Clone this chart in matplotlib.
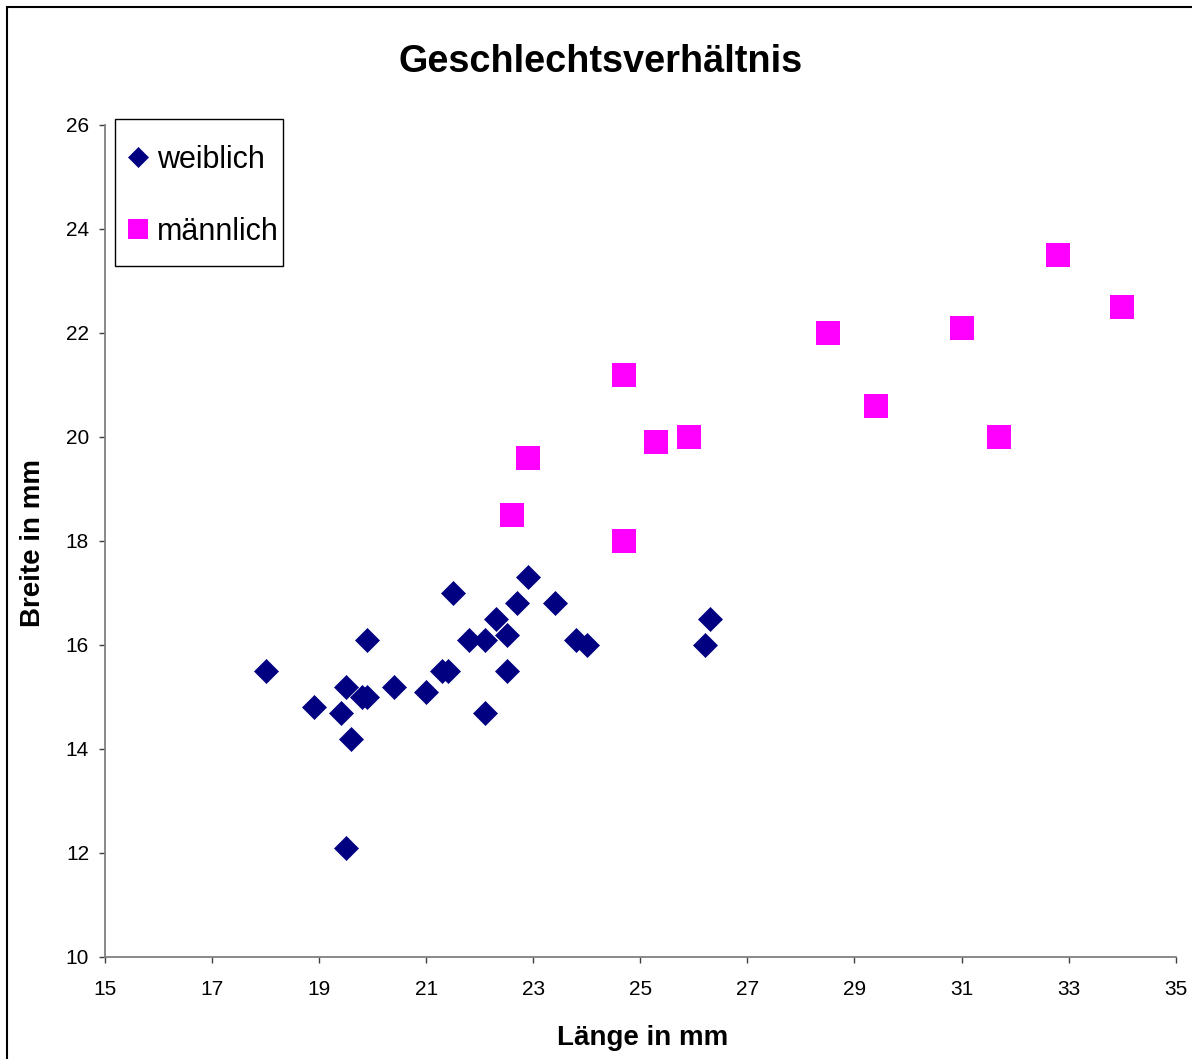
import matplotlib
matplotlib.use("Agg")
import matplotlib.pyplot as plt
from matplotlib.patches import Rectangle

plt.rcParams['font.family'] = ['Liberation Sans', 'DejaVu Sans']

# Länge (mm) und Breite (mm) der Weibchen
weiblich_laenge = [18.0, 18.9, 19.5, 19.4, 19.6, 19.5, 19.9, 19.8, 19.9, 20.4,
                   21.0, 21.3, 21.4, 21.5, 21.8, 22.1, 22.1, 22.3, 22.5, 22.5,
                   22.7, 22.9, 23.4, 23.8, 24.0, 26.3, 26.2]
weiblich_breite = [15.5, 14.8, 15.2, 14.7, 14.2, 12.1, 16.1, 15.0, 15.0, 15.2,
                   15.1, 15.5, 15.5, 17.0, 16.1, 16.1, 14.7, 16.5, 16.2, 15.5,
                   16.8, 17.3, 16.8, 16.1, 16.0, 16.5, 16.0]

# Länge (mm) und Breite (mm) der Männchen
maennlich_laenge = [22.6, 22.9, 24.7, 24.7, 25.3, 25.9, 28.5, 29.4, 31.0, 31.7,
                    32.8, 34.0]
maennlich_breite = [18.5, 19.6, 21.2, 18.0, 19.9, 20.0, 22.0, 20.6, 22.1, 20.0,
                    23.5, 22.5]

x_ticks = [15, 17, 19, 21, 23, 25, 27, 29, 31, 33, 35]
y_ticks = [10, 12, 14, 16, 18, 20, 22, 24, 26]

W, H = 1192, 1059
fig = plt.figure(figsize=(W / 100, H / 100), dpi=100)
fig.patch.set_facecolor('white')

left, right, top, bottom = 105, 1175.7, 125, 957
ax = fig.add_axes([left / W, 1 - bottom / H, (right - left) / W, (bottom - top) / H])

ax.plot(weiblich_laenge, weiblich_breite, linestyle='none', marker='D',
        markersize=12.5, color='#000080', markeredgewidth=0.5,
        label='weiblich', clip_on=False)
ax.plot(maennlich_laenge, maennlich_breite, linestyle='none', marker='s',
        markersize=17, color='#FF00FF', markeredgewidth=0,
        label='männlich', clip_on=False)

ax.set_xlim(15, 35)
ax.set_ylim(10, 26)
ax.set_xticks(x_ticks)
ax.set_yticks(y_ticks)

for side in ('top', 'right'):
    ax.spines[side].set_visible(False)
for side in ('left', 'bottom'):
    ax.spines[side].set_color('#808080')
    ax.spines[side].set_linewidth(1.3)

ax.tick_params(axis='both', direction='out', length=4.5, width=1.0,
               color='#404040', labelsize=15, labelcolor='black')
ax.tick_params(axis='x', pad=12)
ax.tick_params(axis='y', pad=7)

# Achsentitel
fig.text(643 / W, 1 - 1038 / H, 'Länge in mm', fontsize=20,
         fontweight='bold', ha='center', va='center')
fig.text(33 / W, 1 - 543 / H, 'Breite in mm', fontsize=20,
         fontweight='bold', ha='center', va='center', rotation=90)

fig.text(601 / W, 1 - 62 / H, 'Geschlechtsverhältnis', fontsize=27.3,
         fontweight='bold', ha='center', va='center')

# Legende mit eigenem Rahmen
leg = ax.legend(loc='upper left', bbox_to_anchor=(129 / W, 1 - 145 / H),
                bbox_transform=fig.transFigure, fontsize=22, frameon=False,
                borderpad=0, labelspacing=1.38, handlelength=0.62,
                handletextpad=0.3, borderaxespad=0, markerscale=0.85)
fig.patches.append(Rectangle((115 / W, 1 - 266 / H), 168 / W, 147 / H,
                             transform=fig.transFigure, fill=False,
                             edgecolor='black', linewidth=1.0))

# Rahmen um die gesamte Grafik
fig.patches.append(Rectangle((7 / W, -0.2), 1.3, 1 - 7 / H + 0.2,
                             transform=fig.transFigure, fill=False,
                             edgecolor='black', linewidth=1.5))

fig.savefig('out.png', dpi=100, facecolor='white')
